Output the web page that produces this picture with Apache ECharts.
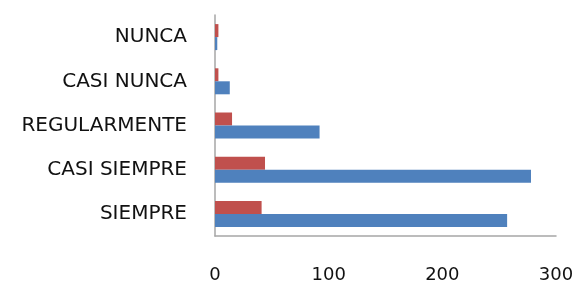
<!DOCTYPE html>
<html>
<head>
<meta charset="utf-8">
<script src="https://cdn.jsdelivr.net/npm/echarts@6/dist/echarts.min.js"></script>
<style>
  html, body { margin: 0; padding: 0; background: #fff; }
  #chart { width: 579px; height: 284px; }
</style>
</head>
<body>
<div id="chart"></div>
<script>
// categories from bottom to top
const categories = ['SIEMPRE', 'CASI SIEMPRE', 'REGULARMENTE', 'CASI NUNCA', 'NUNCA'];
const redValues = [41, 44, 15, 3, 3];
const blueValues = [257, 278, 92, 13, 2];
const xTicks = [0, 100, 200, 300];

let chart = echarts.init(document.getElementById('chart'), null, { renderer: 'canvas' });

let option = {
  animation: false,
  grid: { left: 215, right: 23, top: 15, bottom: 44, containLabel: false },
  xAxis: {
    type: 'value',
    min: xTicks[0],
    max: xTicks[xTicks.length - 1],
    interval: 100,
    axisLine: { show: true, lineStyle: { color: '#a6a6a6', width: 1.5 } },
    axisTick: { show: false },
    splitLine: { show: false },
    axisLabel: { fontFamily: 'DejaVu Sans', fontSize: 18, color: '#111', margin: 30 }
  },
  yAxis: {
    type: 'category',
    data: categories,
    axisLine: { show: true, lineStyle: { color: '#a6a6a6', width: 1.5 } },
    axisTick: { show: false },
    axisLabel: { fontFamily: 'DejaVu Sans', fontSize: 20, color: '#111', margin: 28 }
  },
  series: [
    {
      name: 'serie2',
      type: 'bar',
      data: redValues,
      barWidth: 13,
      barGap: '0%',
      barCategoryGap: '43%',
      itemStyle: { color: '#c0504d' }
    },
    {
      name: 'serie1',
      type: 'bar',
      data: blueValues,
      barWidth: 13,
      barGap: '0%',
      itemStyle: { color: '#4f81bd' }
    }
  ]
};
chart.setOption(option);
</script>
</body>
</html>
